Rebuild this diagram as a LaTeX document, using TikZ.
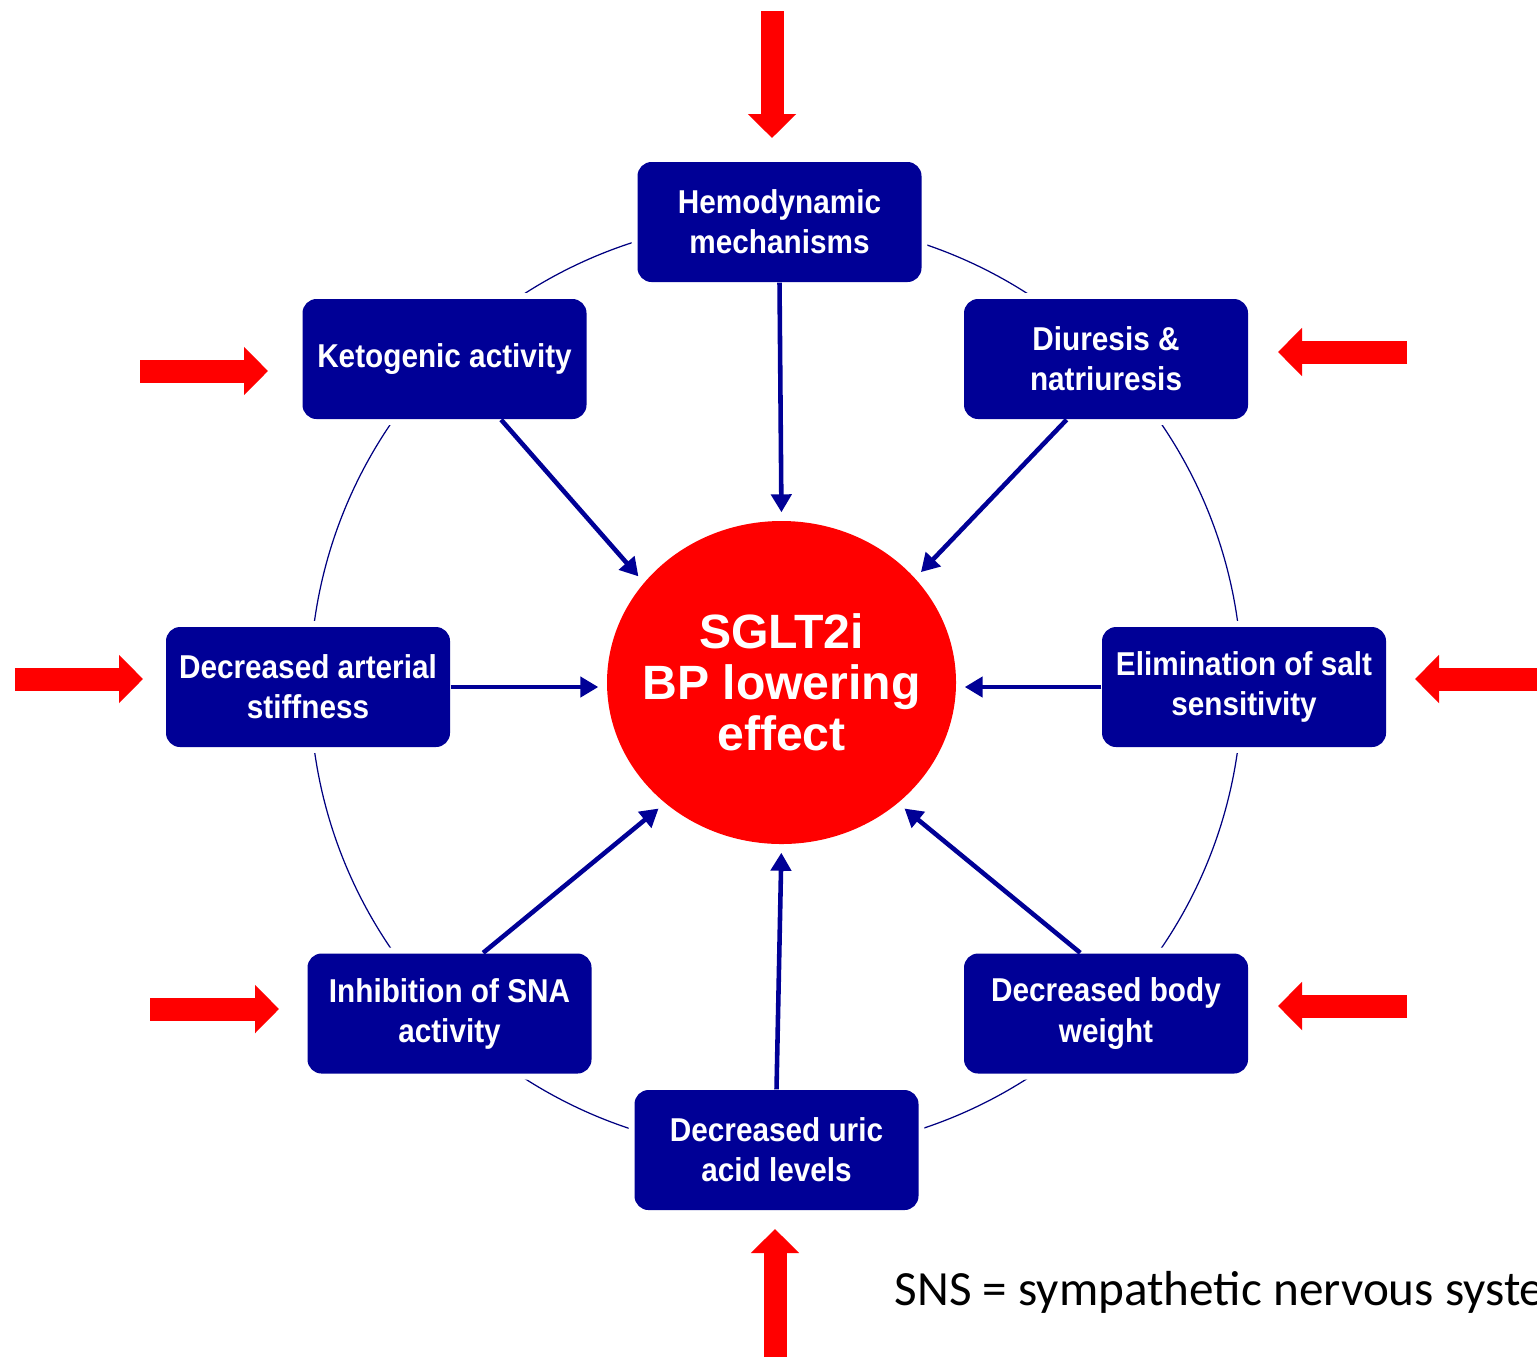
\documentclass[tikz,border=0pt]{standalone}
\usepackage{fontspec}
\setmainfont{Liberation Sans}
\newfontfamily\cardfont{Liberation Sans}[FakeStretch=0.9]
\newfontfamily\notefont{Carlito}
\usepackage{tikz}
\usetikzlibrary{positioning,arrows.meta,shapes.geometric,calc}
\definecolor{inkblue}{HTML}{000096}
\definecolor{hotred}{HTML}{FF0000}

\begin{document}
\begin{tikzpicture}[
  mech/.style={fill=inkblue, rounded corners=4pt, preaction={draw=white, line width=3.4pt}, text=white, font=\cardfont\bfseries\fontsize{9.4}{11.4}\selectfont, align=center, minimum width=28.4mm, minimum height=12mm, inner sep=0pt},
  goal/.style={ellipse, fill=hotred, text=white, font=\bfseries\fontsize{13.7}{14.5}\selectfont, align=center, minimum width=34.9mm, minimum height=32.3mm, inner xsep=-2.5mm, inner ysep=0pt},
  ring/.style={draw=inkblue!85!black, line width=0.35pt},
  conn/.style={-{Triangle[length=1.8mm, width=2mm]}, line width=1.3pt, inkblue, shorten >=0.8mm},
  push/.style={-{Triangle[length=2.4mm, width=4.7mm]}, line width=2.3mm, hotred},
  note/.style={font=\notefont\fontsize{14}{17}\selectfont, anchor=base west, inner sep=0pt}]

  \useasboundingbox (0,0) rectangle (15.37,-13.56);

  % thin ring through the mechanism boxes
  \coordinate (mid) at (7.76,-6.86);
  \draw[ring] (mid) circle (4.66);

  \node[goal] (bp) at (7.815,-6.825) {SGLT2i\\BP lowering\\effect};

  \node[mech] (hemo) at (7.795,-2.22) {Hemodynamic\\mechanisms};
  \node[mech] (keto) at (4.445,-3.59) {Ketogenic activity};
  \node[mech] (diur) at (11.06,-3.59) {Diuresis \&\\natriuresis};
  \node[mech] (stiff) at (3.08,-6.87) {Decreased arterial\\stiffness};
  \node[mech] (salt) at (12.44,-6.87) {Elimination of salt\\sensitivity};
  \node[mech] (sna) at (4.495,-10.135) {Inhibition of SNA\\activity};
  \node[mech] (weight) at (11.06,-10.135) {Decreased body\\weight};
  \node[mech] (uric) at (7.765,-11.50) {Decreased uric\\acid levels};

  \draw[conn] (hemo.south) -- (bp.north); \draw[conn] (keto.-47.5) -- (bp.144); \draw[conn] (diur.-123) -- (bp.38);
  \draw[conn] (stiff.east) -- (stiff.east -| bp.west); \draw[conn] (salt.west) -- (salt.west -| bp.east);
  \draw[conn] (sna.61) -- (bp.226); \draw[conn] (weight.113) -- (bp.314); \draw[conn] (uric.north) -- (bp.south);

  % red cue arrows
  \coordinate (cuehemo) at (7.72,-0.11);
  \coordinate (cueketo) at (1.40,-3.71);
  \coordinate (cuediur) at (14.07,-3.52);
  \coordinate (cuestiff) at (0.15,-6.79);
  \coordinate (cuesalt) at (15.45,-6.79);
  \coordinate (cuesna) at (1.50,-10.09);
  \coordinate (cueweight) at (14.07,-10.06);
  \coordinate (cueuric) at (7.75,-13.65);
  \draw[push] (cuehemo) -- ++(0,-1.27); \draw[push] (cueketo) -- ++(1.28,0); \draw[push] (cuediur) -- ++(-1.29,0);
  \draw[push] (cuestiff) -- ++(1.28,0); \draw[push] (cuesalt) -- ++(-1.30,0);
  \draw[push] (cuesna) -- ++(1.29,0); \draw[push] (cueweight) -- ++(-1.29,0); \draw[push] (cueuric) -- ++(0,1.36);

  \node[note] (sns) at (8.94,-13.05) {SNS = sympathetic nervous system};
\end{tikzpicture}
\end{document}
